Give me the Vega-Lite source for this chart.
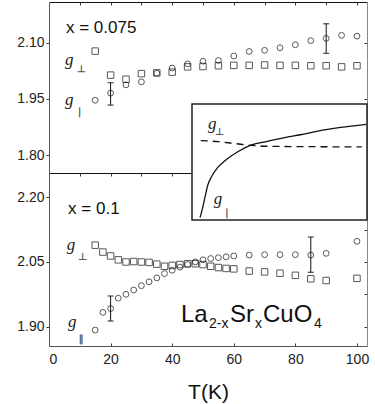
{
  "$schema": "https://vega.github.io/schema/vega-lite/v6.json",
  "padding": {"left": 16, "top": 1, "right": 4, "bottom": 2},
  "background": "white",
  "config": {
    "view": {"stroke": null},
    "font": "Liberation Sans",
    "axis": {"grid": false, "domainColor": "#333", "domainWidth": 1, "tickColor": "#333", "tickWidth": 1, "labelColor": "#222", "labelFont": "Liberation Sans", "labelFontSize": 14, "titleFont": "Liberation Sans", "titleFontWeight": "normal", "titleColor": "#111"}
  },
  "datasets": {
    "top": [
      {"T": 15, "g": 2.077, "s": "perp"}, {"T": 15, "g": 1.946, "s": "par"},
      {"T": 20, "g": 2.013, "s": "perp"}, {"T": 20, "g": 1.965, "s": "par"},
      {"T": 25, "g": 2.002, "s": "perp"}, {"T": 25, "g": 1.987, "s": "par"},
      {"T": 30, "g": 2.017, "s": "perp"}, {"T": 30, "g": 1.995, "s": "par"},
      {"T": 35, "g": 2.019, "s": "perp"}, {"T": 35, "g": 2.018, "s": "par"},
      {"T": 40, "g": 2.021, "s": "perp"}, {"T": 40, "g": 2.032, "s": "par"},
      {"T": 45, "g": 2.035, "s": "perp"}, {"T": 45, "g": 2.043, "s": "par"},
      {"T": 50, "g": 2.036, "s": "perp"}, {"T": 50, "g": 2.05, "s": "par"},
      {"T": 55, "g": 2.038, "s": "perp"}, {"T": 55, "g": 2.052, "s": "par"},
      {"T": 60, "g": 2.039, "s": "perp"}, {"T": 60, "g": 2.064, "s": "par"},
      {"T": 65, "g": 2.039, "s": "perp"}, {"T": 65, "g": 2.076, "s": "par"},
      {"T": 70, "g": 2.04, "s": "perp"}, {"T": 70, "g": 2.079, "s": "par"},
      {"T": 75, "g": 2.039, "s": "perp"}, {"T": 75, "g": 2.086, "s": "par"},
      {"T": 80, "g": 2.039, "s": "perp"}, {"T": 80, "g": 2.094, "s": "par"},
      {"T": 85, "g": 2.038, "s": "perp"}, {"T": 85, "g": 2.105, "s": "par"},
      {"T": 90, "g": 2.038, "s": "perp"}, {"T": 90, "g": 2.111, "s": "par"},
      {"T": 95, "g": 2.035, "s": "perp"}, {"T": 95, "g": 2.119, "s": "par"},
      {"T": 100, "g": 2.038, "s": "perp"}, {"T": 100, "g": 2.117, "s": "par"}
    ],
    "bot": [
      {"T": 15, "g": 2.089, "s": "perp"}, {"T": 15, "g": 1.892, "s": "par"},
      {"T": 17.5, "g": 2.073, "s": "perp"}, {"T": 17.5, "g": 1.933, "s": "par"},
      {"T": 20, "g": 2.064, "s": "perp"}, {"T": 20, "g": 1.942, "s": "par"},
      {"T": 22.5, "g": 2.055, "s": "perp"}, {"T": 22.5, "g": 1.966, "s": "par"},
      {"T": 25, "g": 2.05, "s": "perp"}, {"T": 25, "g": 1.975, "s": "par"},
      {"T": 27.5, "g": 2.051, "s": "perp"}, {"T": 27.5, "g": 1.985, "s": "par"},
      {"T": 30, "g": 2.05, "s": "perp"}, {"T": 30, "g": 1.995, "s": "par"},
      {"T": 32.5, "g": 2.049, "s": "perp"}, {"T": 32.5, "g": 2.004, "s": "par"},
      {"T": 35, "g": 2.045, "s": "perp"}, {"T": 35, "g": 2.013, "s": "par"},
      {"T": 37.5, "g": 2.04, "s": "perp"}, {"T": 37.5, "g": 2.023, "s": "par"},
      {"T": 40, "g": 2.042, "s": "perp"}, {"T": 40, "g": 2.031, "s": "par"},
      {"T": 42.5, "g": 2.044, "s": "perp"}, {"T": 42.5, "g": 2.038, "s": "par"},
      {"T": 45, "g": 2.046, "s": "perp"}, {"T": 45, "g": 2.044, "s": "par"},
      {"T": 47.5, "g": 2.046, "s": "perp"}, {"T": 47.5, "g": 2.05, "s": "par"},
      {"T": 50, "g": 2.044, "s": "perp"}, {"T": 50, "g": 2.055, "s": "par"},
      {"T": 52.5, "g": 2.04, "s": "perp"}, {"T": 52.5, "g": 2.058, "s": "par"},
      {"T": 55, "g": 2.037, "s": "perp"}, {"T": 55, "g": 2.06, "s": "par"},
      {"T": 57.5, "g": 2.035, "s": "perp"}, {"T": 57.5, "g": 2.062, "s": "par"},
      {"T": 60, "g": 2.034, "s": "perp"}, {"T": 60, "g": 2.064, "s": "par"},
      {"T": 65, "g": 2.029, "s": "perp"}, {"T": 65, "g": 2.066, "s": "par"},
      {"T": 70, "g": 2.027, "s": "perp"}, {"T": 70, "g": 2.067, "s": "par"},
      {"T": 75, "g": 2.024, "s": "perp"}, {"T": 75, "g": 2.067, "s": "par"},
      {"T": 80, "g": 2.019, "s": "perp"}, {"T": 80, "g": 2.067, "s": "par"},
      {"T": 85, "g": 2.011, "s": "perp"}, {"T": 85, "g": 2.066, "s": "par"},
      {"T": 90, "g": 2.007, "s": "perp"}, {"T": 90, "g": 2.07, "s": "par"},
      {"T": 100, "g": 2.012, "s": "perp"}, {"T": 100, "g": 2.098, "s": "par"}
    ],
    "topErr": [{"T": 20, "lo": 1.933, "hi": 1.993}, {"T": 90, "lo": 2.071, "hi": 2.15}],
    "botErr": [{"T": 20, "lo": 1.913, "hi": 1.971}, {"T": 85, "lo": 2.026, "hi": 2.108}],
    "inset": [
      {"u": 4.6, "v": 2, "c": "par"}, {"u": 6.0, "v": 10, "c": "par"}, {"u": 7.4, "v": 19.5, "c": "par"},
      {"u": 9.0, "v": 30, "c": "par"}, {"u": 11.2, "v": 37.5, "c": "par"}, {"u": 14.5, "v": 45, "c": "par"},
      {"u": 18.8, "v": 51, "c": "par"}, {"u": 26.4, "v": 59, "c": "par"}, {"u": 34, "v": 64.7, "c": "par"},
      {"u": 43, "v": 67.8, "c": "par"}, {"u": 53, "v": 71, "c": "par"}, {"u": 62, "v": 73.5, "c": "par"},
      {"u": 72, "v": 76.7, "c": "par"}, {"u": 85, "v": 79.8, "c": "par"}, {"u": 99.5, "v": 82.5, "c": "par"},
      {"u": 5, "v": 68.5, "c": "perp"}, {"u": 15, "v": 67.5, "c": "perp"}, {"u": 25, "v": 65.8, "c": "perp"},
      {"u": 34, "v": 64.3, "c": "perp"}, {"u": 45, "v": 63.5, "c": "perp"}, {"u": 70, "v": 63.2, "c": "perp"},
      {"u": 97, "v": 63.0, "c": "perp"}
    ]
  },
  "bounds": "flush",
  "spacing": 0,
  "vconcat": [
    {
      "width": 318,
      "height": 171,
      "resolve": {"axis": {"x": "independent", "y": "independent"}},
      "layer": [
        {
          "data": {"name": "top"},
          "transform": [{"filter": "datum.s === 'perp'"}],
          "mark": {"type": "point", "shape": "square", "size": 42, "filled": false, "stroke": "#111", "strokeWidth": 1},
          "encoding": {
            "x": {"field": "T", "type": "quantitative", "scale": {"domain": [0, 103.25], "nice": false, "zero": false},
              "axis": {"orient": "top", "labels": false, "title": null, "values": [10, 20, 30, 40, 50, 60, 70, 80, 90, 100], "tickSize": -3, "domainColor": "#111", "domainWidth": 1.2}},
            "y": {"field": "g", "type": "quantitative", "scale": {"domain": [1.752, 2.208], "nice": false, "zero": false},
              "axis": {"orient": "left", "title": null, "values": [1.8, 1.95, 2.1], "format": ".2f", "tickSize": 3, "labelPadding": 2, "domainColor": "#555"}}
          }
        },
        {
          "data": {"name": "top"},
          "transform": [{"filter": "datum.s === 'par'"}],
          "mark": {"type": "point", "shape": "circle", "size": 34, "filled": false, "stroke": "#111", "strokeWidth": 1},
          "encoding": {
            "x": {"field": "T", "type": "quantitative", "scale": {"domain": [0, 103.25], "nice": false, "zero": false},
              "axis": {"orient": "bottom", "labels": false, "title": null, "values": [10, 20, 30, 40, 50, 60, 70, 80, 90, 100], "tickSize": 3, "domainColor": "#111", "domainWidth": 1.2}},
            "y": {"field": "g", "type": "quantitative", "scale": {"domain": [1.752, 2.208], "nice": false, "zero": false},
              "axis": {"orient": "right", "labels": false, "title": null, "values": [1.8, 1.95, 2.1], "tickSize": -3, "domainColor": "#888"}}
          }
        },
        {
          "data": {"name": "topErr"},
          "mark": {"type": "rule", "color": "#111", "strokeWidth": 1},
          "encoding": {
            "x": {"field": "T", "type": "quantitative", "scale": {"domain": [0, 103.25], "nice": false, "zero": false}, "axis": null},
            "y": {"field": "lo", "type": "quantitative", "scale": {"domain": [1.752, 2.208], "nice": false, "zero": false}, "axis": null},
            "y2": {"field": "hi"}
          }
        },
        {
          "data": {"name": "topErr"},
          "mark": {"type": "tick", "orient": "horizontal", "size": 6, "thickness": 1.3, "color": "#111"},
          "encoding": {
            "x": {"field": "T", "type": "quantitative", "axis": null},
            "y": {"field": "lo", "type": "quantitative", "axis": null}
          }
        },
        {
          "data": {"name": "topErr"},
          "mark": {"type": "tick", "orient": "horizontal", "size": 6, "thickness": 1.3, "color": "#111"},
          "encoding": {
            "x": {"field": "T", "type": "quantitative", "axis": null},
            "y": {"field": "hi", "type": "quantitative", "axis": null}
          }
        },
        {
          "data": {"values": [{"T": 5.5, "g": 2.139, "label": "x = 0.075"}]},
          "mark": {"type": "text", "align": "left", "baseline": "middle", "fontSize": 17, "font": "Liberation Sans", "color": "#111"},
          "encoding": {
            "x": {"field": "T", "type": "quantitative", "axis": null},
            "y": {"field": "g", "type": "quantitative", "axis": null},
            "text": {"field": "label"}
          }
        },
        {
          "data": {"values": [{"T": 5.2, "g": 2.04, "label": "g"}, {"T": 5.2, "g": 1.933, "label": "g"}]},
          "mark": {"type": "text", "align": "left", "baseline": "alphabetic", "fontSize": 17, "font": "Liberation Serif", "fontStyle": "italic", "color": "#222"},
          "encoding": {
            "x": {"field": "T", "type": "quantitative", "axis": null},
            "y": {"field": "g", "type": "quantitative", "axis": null},
            "text": {"field": "label"}
          }
        },
        {
          "data": {"values": [{"T": 9.0, "g": 2.021, "label": "⊥"}, {"T": 9.3, "g": 1.907, "label": "|"}]},
          "mark": {"type": "text", "align": "left", "baseline": "alphabetic", "fontSize": 10, "font": "DejaVu Sans", "fontWeight": "bold", "color": "#555", "angle": 0.5},
          "encoding": {
            "x": {"field": "T", "type": "quantitative", "axis": null},
            "y": {"field": "g", "type": "quantitative", "axis": null},
            "text": {"field": "label"}
          }
        }
      ]
    },
    {
      "width": 318,
      "height": 173,
      "resolve": {"scale": {"x": "independent", "y": "independent"}},
      "layer": [
        {
          "resolve": {"axis": {"x": "independent", "y": "independent"}},
          "layer": [
            {
              "data": {"name": "bot"},
              "transform": [{"filter": "datum.s === 'perp'"}],
              "mark": {"type": "point", "shape": "square", "size": 42, "filled": false, "stroke": "#111", "strokeWidth": 1},
              "encoding": {
                "x": {"field": "T", "type": "quantitative", "scale": {"domain": [0, 103.25], "nice": false, "zero": false},
                  "axis": {"orient": "bottom", "values": [0, 20, 40, 60, 80, 100], "tickSize": -3, "labelPadding": 9, "title": "T(K)", "titleFontSize": 21, "titlePadding": 15, "domainColor": "#555"}},
                "y": {"field": "g", "type": "quantitative", "scale": {"domain": [1.855, 2.2565], "nice": false, "zero": false},
                  "axis": {"orient": "left", "title": null, "values": [1.9, 2.05, 2.2], "format": ".2f", "tickSize": 3, "labelPadding": 2, "domainColor": "#555"}}
              }
            },
            {
              "data": {"name": "bot"},
              "transform": [{"filter": "datum.s === 'par'"}],
              "mark": {"type": "point", "shape": "circle", "size": 34, "filled": false, "stroke": "#111", "strokeWidth": 1},
              "encoding": {
                "x": {"field": "T", "type": "quantitative", "scale": {"domain": [0, 103.25], "nice": false, "zero": false}, "axis": null},
                "y": {"field": "g", "type": "quantitative", "scale": {"domain": [1.855, 2.2565], "nice": false, "zero": false},
                  "axis": {"orient": "right", "labels": false, "title": null, "values": [1.9, 1.975, 2.05, 2.125, 2.2], "tickSize": -3, "domainColor": "#888"}}
              }
            },
            {
              "data": {"name": "botErr"},
              "mark": {"type": "rule", "color": "#111", "strokeWidth": 1},
              "encoding": {
                "x": {"field": "T", "type": "quantitative", "scale": {"domain": [0, 103.25], "nice": false, "zero": false}, "axis": null},
                "y": {"field": "lo", "type": "quantitative", "scale": {"domain": [1.855, 2.2565], "nice": false, "zero": false}, "axis": null},
                "y2": {"field": "hi"}
              }
            },
            {
              "data": {"name": "botErr"},
              "mark": {"type": "tick", "orient": "horizontal", "size": 6, "thickness": 1.3, "color": "#111"},
              "encoding": {
                "x": {"field": "T", "type": "quantitative", "axis": null},
                "y": {"field": "lo", "type": "quantitative", "axis": null}
              }
            },
            {
              "data": {"name": "botErr"},
              "mark": {"type": "tick", "orient": "horizontal", "size": 6, "thickness": 1.3, "color": "#111"},
              "encoding": {
                "x": {"field": "T", "type": "quantitative", "axis": null},
                "y": {"field": "hi", "type": "quantitative", "axis": null}
              }
            },
            {
              "data": {"values": [{"T": 6.2, "g": 2.174, "label": "x = 0.1"}]},
              "mark": {"type": "text", "align": "left", "baseline": "middle", "fontSize": 17, "font": "Liberation Sans", "color": "#111"},
              "encoding": {
                "x": {"field": "T", "type": "quantitative", "axis": null},
                "y": {"field": "g", "type": "quantitative", "axis": null},
                "text": {"field": "label"}
              }
            },
            {
              "data": {"values": [{"T": 5.8, "g": 2.077, "label": "g"}, {"T": 6.2, "g": 1.899, "label": "g"}]},
              "mark": {"type": "text", "align": "left", "baseline": "alphabetic", "fontSize": 17, "font": "Liberation Serif", "fontStyle": "italic", "color": "#222"},
              "encoding": {
                "x": {"field": "T", "type": "quantitative", "axis": null},
                "y": {"field": "g", "type": "quantitative", "axis": null},
                "text": {"field": "label"}
              }
            },
            {
              "data": {"values": [{"T": 9.4, "g": 2.0546, "label": "⊥"}, {"T": 9.6, "g": 1.864, "label": "‖"}]},
              "mark": {"type": "text", "align": "left", "baseline": "alphabetic", "fontSize": 10, "font": "DejaVu Sans", "fontWeight": "bold", "color": "#555", "angle": 0.5},
              "encoding": {
                "x": {"field": "T", "type": "quantitative", "axis": null},
                "y": {"field": "g", "type": "quantitative", "axis": null},
                "text": {"field": "label"}
              }
            },
            {
              "data": {"values": [{"T": 42.86, "g": 1.9108, "label": "La"}, {"T": 58.77, "g": 1.9108, "label": "Sr"}, {"T": 69.48, "g": 1.9108, "label": "CuO"}]},
              "mark": {"type": "text", "align": "left", "baseline": "alphabetic", "fontSize": 24, "font": "Liberation Sans", "color": "#111"},
              "encoding": {
                "x": {"field": "T", "type": "quantitative", "axis": null},
                "y": {"field": "g", "type": "quantitative", "axis": null},
                "text": {"field": "label"}
              }
            },
            {
              "data": {"values": [{"T": 51.95, "g": 1.8969, "label": "2-x"}, {"T": 66.88, "g": 1.8969, "label": "x"}, {"T": 86.04, "g": 1.8969, "label": "4"}]},
              "mark": {"type": "text", "align": "left", "baseline": "alphabetic", "fontSize": 14, "font": "Liberation Sans", "color": "#111"},
              "encoding": {
                "x": {"field": "T", "type": "quantitative", "axis": null},
                "y": {"field": "g", "type": "quantitative", "axis": null},
                "text": {"field": "label"}
              }
            }
          ]
        },
        {
          "layer": [
            {
              "data": {"values": [{"u0": 0, "u1": 100, "v0": 0, "v1": 100}]},
              "mark": {"type": "rect", "fill": "white", "stroke": "#222", "strokeWidth": 1.5},
              "encoding": {
                "x": {"field": "u0", "type": "quantitative", "scale": {"domain": [-81.714, 100], "nice": false, "zero": false}, "axis": null},
                "x2": {"field": "u1"},
                "y": {"field": "v0", "type": "quantitative", "scale": {"domain": [-108.62, 40.517], "nice": false, "zero": false}, "axis": null},
                "y2": {"field": "v1"}
              }
            },
            {
              "data": {"name": "inset"},
              "transform": [{"filter": "datum.c === 'perp'"}],
              "mark": {"type": "line", "stroke": "#111", "strokeWidth": 1.3, "strokeDash": [7, 5], "interpolate": "monotone"},
              "encoding": {
                "x": {"field": "u", "type": "quantitative", "scale": {"domain": [-81.714, 100], "nice": false, "zero": false}, "axis": null},
                "y": {"field": "v", "type": "quantitative", "scale": {"domain": [-108.62, 40.517], "nice": false, "zero": false}, "axis": null}
              }
            },
            {
              "data": {"name": "inset"},
              "transform": [{"filter": "datum.c === 'par'"}],
              "mark": {"type": "line", "stroke": "#111", "strokeWidth": 1.3, "interpolate": "monotone"},
              "encoding": {
                "x": {"field": "u", "type": "quantitative", "scale": {"domain": [-81.714, 100], "nice": false, "zero": false}, "axis": null},
                "y": {"field": "v", "type": "quantitative", "scale": {"domain": [-108.62, 40.517], "nice": false, "zero": false}, "axis": null}
              }
            },
            {
              "data": {"values": [{"u": 9.1, "v": 78.4, "label": "g"}, {"u": 12.5, "v": 13.8, "label": "g"}]},
              "mark": {"type": "text", "align": "left", "baseline": "alphabetic", "fontSize": 17, "font": "Liberation Serif", "fontStyle": "italic", "color": "#222"},
              "encoding": {
                "x": {"field": "u", "type": "quantitative", "scale": {"domain": [-81.714, 100], "nice": false, "zero": false}, "axis": null},
                "y": {"field": "v", "type": "quantitative", "scale": {"domain": [-108.62, 40.517], "nice": false, "zero": false}, "axis": null},
                "text": {"field": "label"}
              }
            },
            {
              "data": {"values": [{"u": 13.1, "v": 73.3, "label": "⊥"}, {"u": 18.8, "v": 3.4, "label": "|"}]},
              "mark": {"type": "text", "align": "left", "baseline": "alphabetic", "fontSize": 10, "font": "DejaVu Sans", "fontWeight": "bold", "color": "#555", "angle": 0.5},
              "encoding": {
                "x": {"field": "u", "type": "quantitative", "scale": {"domain": [-81.714, 100], "nice": false, "zero": false}, "axis": null},
                "y": {"field": "v", "type": "quantitative", "scale": {"domain": [-108.62, 40.517], "nice": false, "zero": false}, "axis": null},
                "text": {"field": "label"}
              }
            }
          ]
        }
      ]
    }
  ]
}
